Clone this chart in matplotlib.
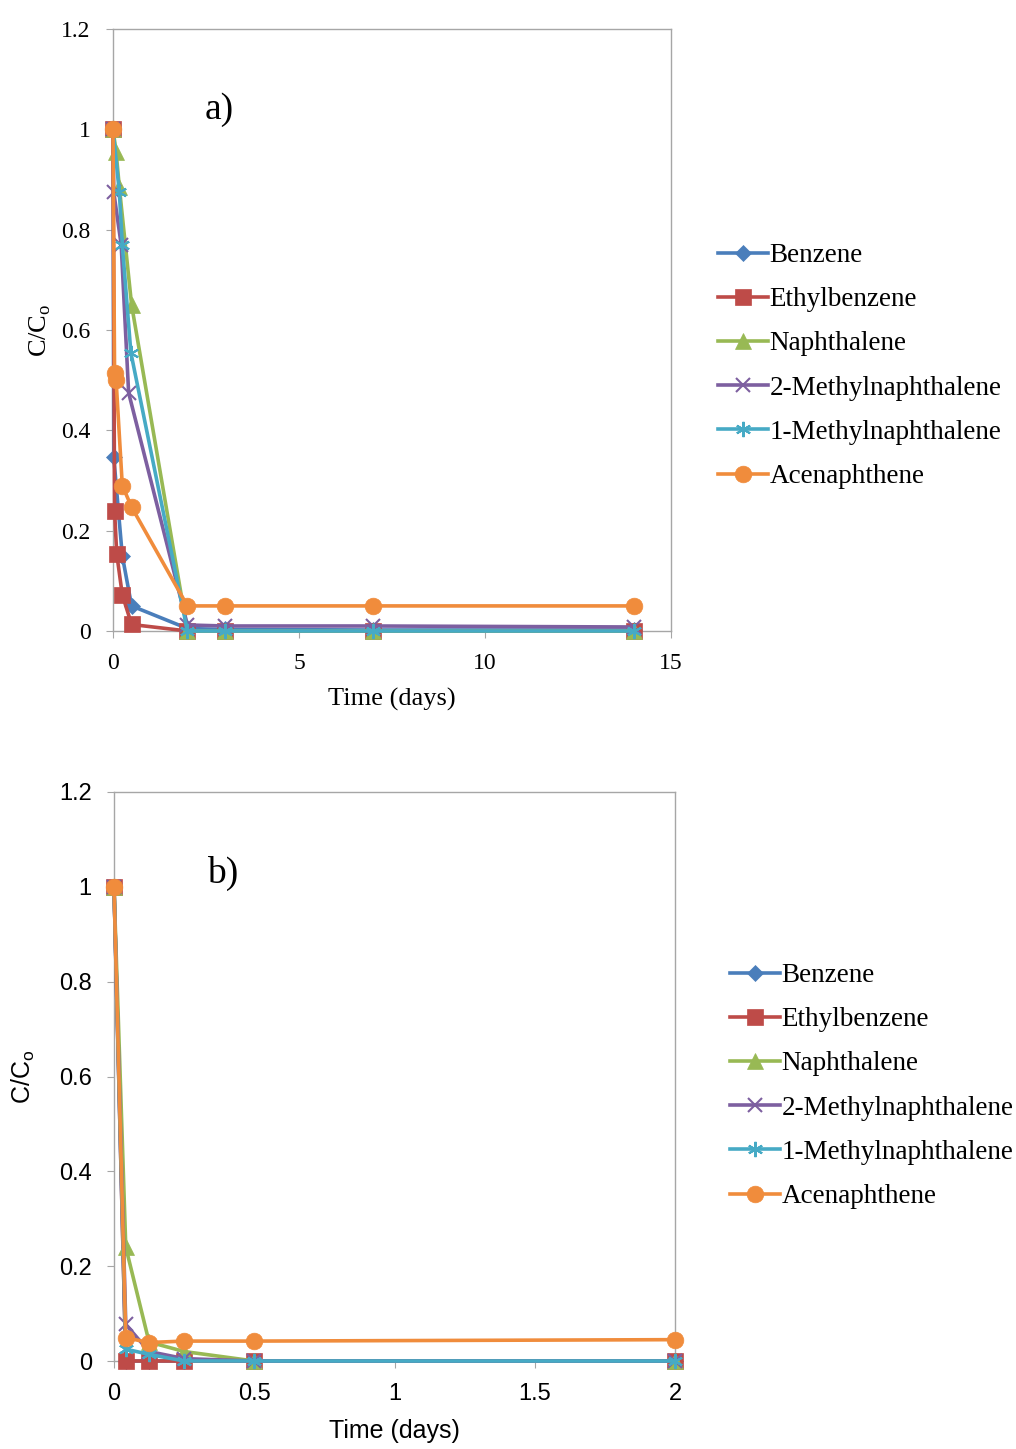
import numpy as np
import matplotlib
matplotlib.use('Agg')
from matplotlib import pyplot as plt

# series names
names = ['Benzene', 'Ethylbenzene', 'Naphthalene', '2-Methylnaphthalene',
         '1-Methylnaphthalene', 'Acenaphthene']

# panel a) time (days) and C/Co
t_benz_a = [0, 0.02, 0.25, 0.5, 2, 3, 7, 14]
c_benz_a = [1.0, 0.347, 0.15, 0.05, 0.005, 0.003, 0.002, 0.002]
t_ethyl_a = [0, 0.042, 0.1, 0.25, 0.5, 2, 3, 7, 14]
c_ethyl_a = [1.0, 0.24, 0.154, 0.072, 0.013, 0.0, 0.0, 0.0, 0.0]
t_naph_a = [0, 0.083, 0.17, 0.5, 2, 3, 7, 14]
c_naph_a = [1.0, 0.955, 0.885, 0.65, 0.0, 0.0, 0.0, 0.0]
t_2mn_a = [0, 0.02, 0.22, 0.42, 2, 3, 7, 14]
c_2mn_a = [1.0, 0.875, 0.77, 0.475, 0.012, 0.01, 0.01, 0.008]
t_1mn_a = [0, 0.17, 0.25, 0.48, 2, 3, 7, 14]
c_1mn_a = [1.0, 0.875, 0.77, 0.555, 0.0, 0.0, 0.0, 0.0]
t_acen_a = [0, 0.042, 0.083, 0.25, 0.5, 2, 3, 7, 14]
c_acen_a = [1.0, 0.515, 0.5, 0.29, 0.247, 0.05, 0.05, 0.05, 0.05]

# panel b)
t_b = [0, 0.042, 0.125, 0.25, 0.5, 2]
c_benz_b = [1.0, 0.0, 0.0, 0.0, 0.0, 0.0]
c_ethyl_b = [1.0, 0.0, 0.0, 0.0, 0.0, 0.0]
c_naph_b = [1.0, 0.24, 0.04, 0.02, 0.0, 0.0]
c_2mn_b = [1.0, 0.077, 0.02, 0.005, 0.0, 0.0]
c_1mn_b = [1.0, 0.025, 0.014, 0.0, 0.0, 0.0]
c_acen_b = [1.0, 0.049, 0.039, 0.042, 0.042, 0.045]

colors = ['#4A7EBB', '#BE4B48', '#98B954', '#7D5FA0', '#46AAC5', '#F08C3C']
markers = ['D', 's', '^', 'x', (6, 2, 0), 'o']
msizes = [8, 11, 11, 10, 11, 12]

fig = plt.figure(figsize=(10.16, 14.49), dpi=100)
W, H = 1016, 1449

def box(l, t, r, b):
  return [l / W, 1 - b / H, (r - l) / W, (b - t) / H]

def style(ax, font, tsize):
  for s in ax.spines.values():
    s.set_color('#A6A6A6')
    s.set_linewidth(1.0)
  ax.tick_params(direction='out', length=5, color='#A6A6A6', labelsize=tsize, pad=11)
  for lab in ax.get_xticklabels() + ax.get_yticklabels():
    lab.set_family(font)

def draw(ax, ts, cs):
  for i in range(6):
    ax.plot(ts[i], cs[i], color=colors[i], lw=2.6, marker=markers[i],
            ms=msizes[i], mew=1.5 if i in (3, 4) else 0.5, mec=colors[i],
            mfc=colors[i], clip_on=False, label=names[i], zorder=3 + i)

def add_legend(ax, x, y):
  ax.legend(loc='upper left', bbox_to_anchor=(x / W, 1 - y / H),
            bbox_transform=fig.transFigure, frameon=False, borderpad=0,
            borderaxespad=0, handlelength=1.85, handletextpad=0.05,
            labelspacing=0.71, prop={'family': 'Liberation Serif', 'size': 19.5})

# ---- panel a
axa = fig.add_axes(box(113, 29, 671, 631))
draw(axa, [t_benz_a, t_ethyl_a, t_naph_a, t_2mn_a, t_1mn_a, t_acen_a],
     [c_benz_a, c_ethyl_a, c_naph_a, c_2mn_a, c_1mn_a, c_acen_a])
axa.set_xlim(0, 15)
axa.set_ylim(0, 1.2)
axa.set_xticks([0, 5, 10, 15])
axa.set_yticks([0, 0.2, 0.4, 0.6, 0.8, 1.0, 1.2])
axa.set_yticklabels(['0', '0.2', '0.4', '0.6', '0.8', '1', '1.2'])
style(axa, 'Liberation Serif', 17)
axa.set_xlabel('Time (days)', family='Liberation Serif', fontsize=19, labelpad=10)
axa.set_ylabel('C/C$_\\mathregular{o}$', family='Liberation Serif', fontsize=19, labelpad=6)
axa.text(0.165, 0.85, 'a)', transform=axa.transAxes, family='Liberation Serif', fontsize=27)
add_legend(axa, 718, 243)

# ---- panel b
axb = fig.add_axes(box(114, 792, 675, 1361))
draw(axb, [t_b] * 6, [c_benz_b, c_ethyl_b, c_naph_b, c_2mn_b, c_1mn_b, c_acen_b])
axb.set_xlim(0, 2)
axb.set_ylim(0, 1.2)
axb.set_xticks([0, 0.5, 1, 1.5, 2])
axb.set_xticklabels(['0', '0.5', '1', '1.5', '2'])
axb.set_yticks([0, 0.2, 0.4, 0.6, 0.8, 1.0, 1.2])
axb.set_yticklabels(['0', '0.2', '0.4', '0.6', '0.8', '1', '1.2'])
style(axb, 'Liberation Sans', 17)
axb.set_xlabel('Time (days)', family='Liberation Sans', fontsize=18, labelpad=10)
axb.set_ylabel('C/C$_\\mathregular{o}$', family='Liberation Sans', fontsize=18, labelpad=16)
axb.text(0.165, 0.84, 'b)', transform=axb.transAxes, family='Liberation Serif', fontsize=27)
add_legend(axb, 730, 963)

fig.savefig('out.png', dpi=100)
